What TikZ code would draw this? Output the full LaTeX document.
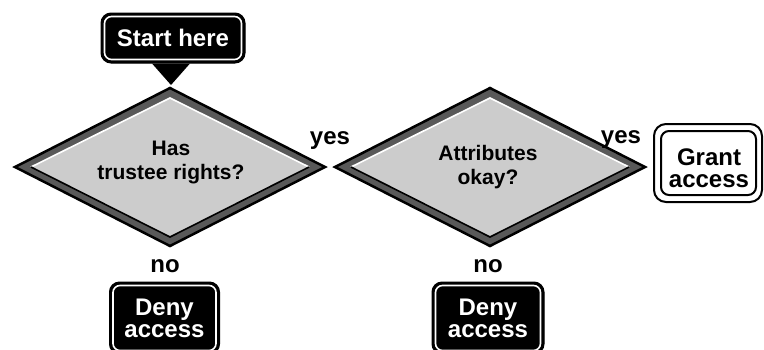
\documentclass[tikz,border=0pt]{standalone}
\usepackage{fontspec}
\setmainfont{Liberation Sans}
\newcommand\myfs[2]{\fontsize{#1}{#2}\selectfont\bfseries}
\definecolor{band}{HTML}{595959}
\definecolor{dfill}{HTML}{CCCCCC}
\begin{document}
\begin{tikzpicture}[x=1pt,y=-1pt,
  blackbox/.style={fill=black, draw=black, line width=1pt, rounded corners=10pt,
    text=white, align=center, inner sep=0pt},
  innerwhite/.style={draw=white, line width=1.6pt, rounded corners=7pt},
  grantbox/.style={draw=black, fill=white, line width=2pt, rounded corners=12pt, inner sep=0pt},
  innerblack/.style={draw=black, line width=2pt, rounded corners=8pt},
  boxtext/.style={align=center, inner sep=0pt, font=\myfs{24}{22}},
  lbl/.style={inner sep=0pt, anchor=base, font=\myfs{24}{24}},
  dtext/.style={align=center, inner sep=0pt, font=\myfs{21}{24}},
  dband/.style={draw=black, fill=band, line width=2.5pt, line join=miter},
  dinner/.style={fill=dfill}
]
\useasboundingbox (0,0) rectangle (764,349);
\clip (0,0) rectangle (764,349);

% decision diamonds
\coordinate (d1) at (170,167);
\coordinate (d2) at (490,167);
\foreach \d in {d1,d2}{
  \begin{scope}[shift={(\d)}]
    \path[dband] (-155,0) -- (0,-79) -- (155,0) -- (0,79) -- cycle;
    \fill[dinner] (-139,0) -- (0,-69) -- (139,0) -- (0,70) -- cycle;
    \draw[white, line width=1.6pt] (-139,0) -- (0,-69) -- (139,0);
    \draw[black, line width=1.6pt] (-139,0) -- (0,70) -- (139,0);
  \end{scope}
}
\node[dtext] (q1) at (171,162) {Has\\trustee rights?};
\node[dtext] (q2) at (488,167) {Attributes\\okay?};

% start box with pointer
\node[blackbox, minimum width=144pt, minimum height=50pt, font=\myfs{24}{24}] (start) at (173,38) {Start here};
\draw[innerwhite] ([shift={(4,4)}]start.north west) rectangle ([shift={(-4,-4)}]start.south east);
\coordinate (ptip) at (171,85);
\fill[black] ([xshift=-21pt]start.south) -- ([xshift=17pt]start.south) -- (ptip) -- cycle;

% grant access
\node[grantbox, minimum width=108pt, minimum height=78pt] (grant) at (708,163) {};
\draw[innerblack] ([shift={(8,8)}]grant.north west) rectangle ([shift={(-7,-8)}]grant.south east);
\node[boxtext] (granttext) at (709,168) {Grant\\access};

% deny boxes
\node[blackbox, minimum width=110pt, minimum height=72pt, font=\myfs{24}{22}] (deny1) at (164.5,318) {Deny\\access};
\draw[innerwhite] ([shift={(4,4)}]deny1.north west) rectangle ([shift={(-4,-4)}]deny1.south east);
\node[blackbox, minimum width=112pt, minimum height=72pt, font=\myfs{24}{22}] (deny2) at (488,318) {Deny\\access};
\draw[innerwhite] ([shift={(4,4)}]deny2.north west) rectangle ([shift={(-4,-4)}]deny2.south east);

% labels
\node[lbl] (yes1) at (330,144) {yes};
\node[lbl] (yes2) at (621,143) {yes};
\node[lbl] (no1) at (165,272) {no};
\node[lbl] (no2) at (488,272) {no};
\end{tikzpicture}
\end{document}
